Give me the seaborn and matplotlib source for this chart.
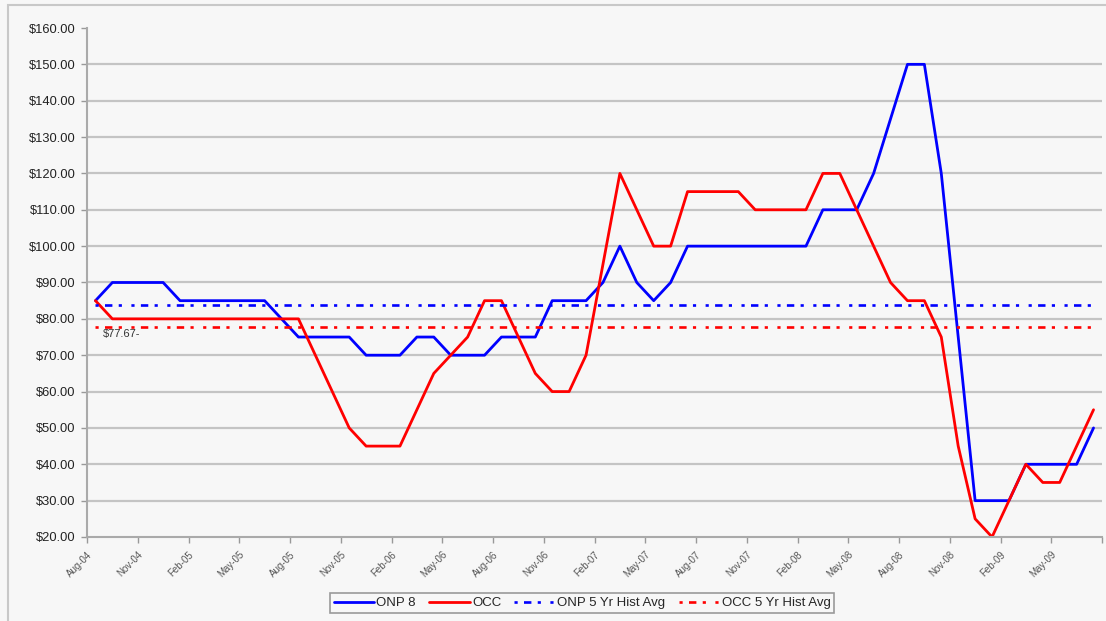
import matplotlib
matplotlib.use("Agg")
import matplotlib.pyplot as plt
import seaborn as sns
import numpy as np
import pandas as pd
from matplotlib.patches import Rectangle
from matplotlib.ticker import FuncFormatter, FixedLocator

# ---------------- data ----------------
months = pd.date_range("2004-08-01", periods=60, freq="MS")
tick_labels = ["Aug-04", "Nov-04", "Feb-05", "May-05", "Aug-05", "Nov-05", "Feb-06",
               "May-06", "Aug-06", "Nov-06", "Feb-07", "May-07", "Aug-07", "Nov-07",
               "Feb-08", "May-08", "Aug-08", "Nov-08", "Feb-09", "May-09"]

onp8 = [85, 90, 90, 90, 90, 85, 85, 85, 85, 85,
        85, 80, 75, 75, 75, 75, 70, 70, 70, 75,
        75, 70, 70, 70, 75, 75, 75, 85, 85, 85,
        90, 100, 90, 85, 90, 100, 100, 100, 100, 100,
        100, 100, 100, 110, 110, 110, 120, 135, 150, 150,
        120, 75, 30, 30, 30, 40, 40, 40, 40, 50]

occ = [85, 80, 80, 80, 80, 80, 80, 80, 80, 80,
       80, 80, 80, 70, 60, 50, 45, 45, 45, 55,
       65, 70, 75, 85, 85, 75, 65, 60, 60, 70,
       95, 120, 110, 100, 100, 115, 115, 115, 115, 110,
       110, 110, 110, 120, 120, 110, 100, 90, 85, 85,
       75, 45, 25, 20, 30, 40, 35, 35, 45, 55]

onp_avg = 83.8
occ_avg = 77.67
series_names = ["ONP 8", "OCC", "ONP 5 Yr Hist Avg", "OCC 5 Yr Hist Avg"]

# ---------------- style ----------------
sns.set_theme(style="white")
plt.rcParams["font.family"] = ["Liberation Sans", "DejaVu Sans"]

BG = "#f7f7f7"
fig = plt.figure(figsize=(11.06, 6.21), dpi=100, facecolor=BG)
W, H = 1106, 621
ax = fig.add_axes([87 / W, 1 - 537 / H, (1102 - 87) / W, (537 - 28) / H])
ax.set_facecolor(BG)

x = np.arange(len(months)) + 0.5
df = pd.DataFrame({"x": x, "onp": onp8, "occ": occ,
                   "onp_avg": [onp_avg] * len(x), "occ_avg": [occ_avg] * len(x)})

avg_dash = (0, (1.2, 2.4, 2.8, 2.4, 1.2, 3.6))
sns.lineplot(data=df, x="x", y="onp", ax=ax, color="#0000ff", lw=2.0, label=series_names[0])
sns.lineplot(data=df, x="x", y="occ", ax=ax, color="#ff0000", lw=2.0, label=series_names[1])
sns.lineplot(data=df, x="x", y="onp_avg", ax=ax, color="#0000ff", lw=1.9,
             linestyle=avg_dash, label=series_names[2])
sns.lineplot(data=df, x="x", y="occ_avg", ax=ax, color="#ff0000", lw=1.9,
             linestyle=avg_dash, label=series_names[3])

ax.set_xlim(0, 60)
ax.set_ylim(20, 160)
ax.set_xlabel("")
ax.set_ylabel("")

# y axis
ax.yaxis.set_major_locator(FixedLocator(np.arange(20, 161, 10)))
ax.yaxis.set_major_formatter(FuncFormatter(lambda v, p: f"${v:.2f}"))
ax.grid(axis="y", color="#c4c4c4", lw=1.6)
ax.grid(axis="x", visible=False)
for gl, v in zip(ax.get_ygridlines(), np.arange(20, 161, 10)):
    if v in (20, 160):
        gl.set_visible(False)

# x axis
xt = list(range(0, 61, 3))
ax.set_xticks(xt)
ax.set_xticklabels(tick_labels + [""], rotation=45, ha="right", rotation_mode="anchor",
                   fontsize=7, color="#555555")
ax.tick_params(axis="x", which="major", length=4, width=1, color="#999999", pad=5,
               bottom=True)
ax.tick_params(axis="y", which="major", length=4, width=1, color="#999999", pad=4,
               left=True, labelsize=9.3, labelcolor="#222222")

for s in ["top", "right"]:
    ax.spines[s].set_visible(False)
for s in ["left", "bottom"]:
    ax.spines[s].set_color("#aaaaaa")
    ax.spines[s].set_linewidth(1.5)

ax.set_axisbelow(True)

# annotation
ax.text(0.95, 75.8, f"${occ_avg:.2f}-", fontsize=8, color="#333333", va="center", ha="left")

# legend
handles, labels = ax.get_legend_handles_labels()
ax.get_legend().remove()
leg = fig.legend(handles, labels, loc="lower center", bbox_to_anchor=(582 / W, 1 / H),
                 ncol=4, fontsize=9.5, frameon=True, fancybox=False, edgecolor="#9a9a9a",
                 facecolor=BG, framealpha=1, handlelength=3.1, handletextpad=0.15,
                 columnspacing=1.0, borderpad=0.3)
leg.get_frame().set_linewidth(1.2)

# outer chart frame
fig.add_artist(Rectangle((8 / W, -0.05), 1.2, 1 - 5 / H + 0.05, transform=fig.transFigure,
                         fill=False, edgecolor="#c8c8c8", lw=1.5))

fig.savefig("out.png", dpi=100, facecolor=BG)
